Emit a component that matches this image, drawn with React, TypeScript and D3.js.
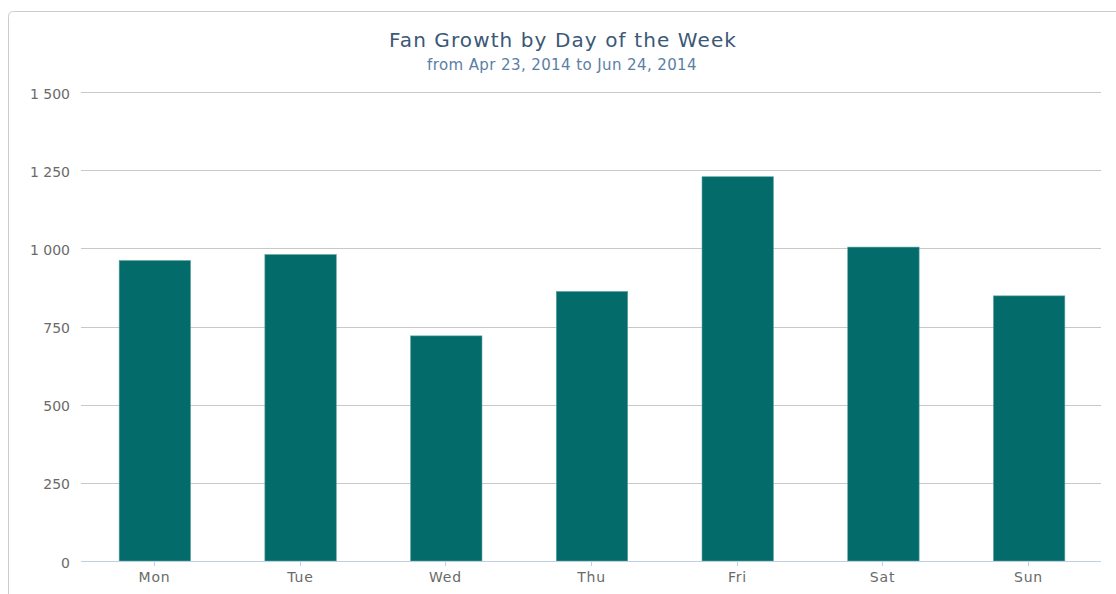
import React from "react";
import * as d3 from "d3";

const days = ["Mon", "Tue", "Wed", "Thu", "Fri", "Sat", "Sun"];
const fanGrowth = [961, 980, 720, 862, 1229, 1004, 848];
const yTicks = [0, 250, 500, 750, 1000, 1250, 1500];

const W = 1116;
const H = 594;
const M = { left: 81, right: 1101, top: 92, bottom: 561 };

function fmt(v: number): string {
  return d3.format(",")(v).replace(/,/g, " ");
}

export default function App() {
  const x = d3.scaleBand<string>().domain(days).range([M.left + 1, M.right + 1]).paddingInner(0.51).paddingOuter(0.255);
  const xc = d3.scaleBand<string>().domain(days).range([M.left, M.right]);
  const y = d3.scaleLinear().domain([0, 1500]).range([M.bottom, M.top]);
  const font = "'DejaVu Sans', Verdana, sans-serif";
  return (
    <svg width={W} height={H} style={{ position: "absolute", left: 0, top: 0, display: "block" }} fontFamily={font}>
      <rect x={0} y={0} width={W} height={H} fill="#ffffff" />
      <path d={`M8.5,${H} L8.5,16.5 Q8.5,11.5 13.5,11.5 L${W},11.5`} fill="none" stroke="#cccccc" strokeWidth={1} />
      <text x={563} y={46.5} textAnchor="middle" fontSize={20} letterSpacing={1.1} fill="#3b5877">Fan Growth by Day of the Week</text>
      <text x={562} y={70} textAnchor="middle" fontSize={15} letterSpacing={0.4} fill="#5b7ea6">from Apr 23, 2014 to Jun 24, 2014</text>
      {yTicks.map((t) => (
        <g key={t}>
          {t > 0 && (
            <line x1={M.left} x2={M.right} y1={Math.round(y(t)) + 0.5} y2={Math.round(y(t)) + 0.5} stroke="#c8c8c8" strokeWidth={1} />
          )}
          <text x={70} y={y(t) + 6.5} textAnchor="end" fontSize={14} fill="#6a6a6a">{fmt(t)}</text>
        </g>
      ))}
      {days.map((d, i) => (
        <rect
          key={d}
          x={x(d)!}
          y={y(fanGrowth[i])}
          width={x.bandwidth()}
          height={y(0) - y(fanGrowth[i])}
          fill="#046b6b"
          stroke="#5fa3a3"
          strokeWidth={0.6}
        />
      ))}
      <line x1={M.left} x2={M.right} y1={M.bottom + 0.5} y2={M.bottom + 0.5} stroke="#c0d0e0" strokeWidth={1} />
      {days.map((d) => {
        const cx = Math.round(xc(d)! + xc.bandwidth() / 2) + 0.5;
        return (
          <g key={d}>
            <line x1={cx} x2={cx} y1={M.bottom} y2={M.bottom + 5} stroke="#c0d0e0" strokeWidth={1} />
            <text x={cx} y={581.5} textAnchor="middle" fontSize={14} letterSpacing={0.8} fill="#6a6a6a">{d}</text>
          </g>
        );
      })}
    </svg>
  );
}
